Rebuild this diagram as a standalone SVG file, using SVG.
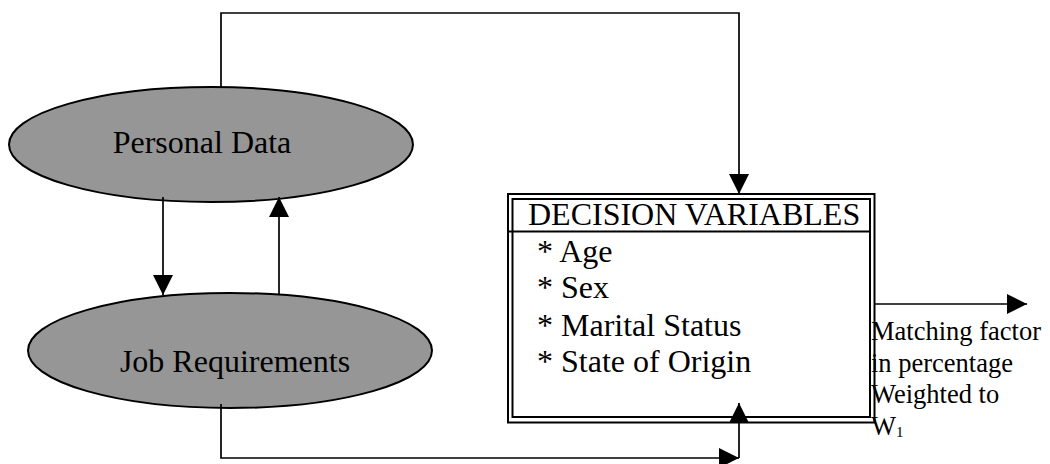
<svg xmlns="http://www.w3.org/2000/svg" width="1050" height="464" viewBox="0 0 1050 464">
<defs>
<marker id="ah" markerUnits="userSpaceOnUse" markerWidth="20" markerHeight="20" viewBox="0 0 20 20" refX="20" refY="10" orient="auto">
<path d="M0,0 L20,10 L0,20 Z" fill="#000"/>
</marker>
</defs>
<style>
text{font-family:'Liberation Serif','Times New Roman','DejaVu Serif',serif;fill:#000}
.big{font-size:32px}
.sm{font-size:26.5px}
.ell{fill:#969696;stroke:#000;stroke-width:2}
.con{fill:none;stroke:#000;stroke-width:1.7}
.arr{marker-end:url(#ah)}
.box{fill:#fff;stroke:#000;stroke-width:2}
</style>
<rect width="1050" height="464" fill="#fff"/>
<g id="personal-data">
<ellipse class="ell" cx="211" cy="144.5" rx="202" ry="57.5"/>
<text class="big" x="202" y="153" text-anchor="middle">Personal Data</text>
</g>
<g id="job-requirements">
<ellipse class="ell" cx="230" cy="350.5" rx="202" ry="57.5"/>
<text class="big" x="235" y="372" text-anchor="middle">Job Requirements</text>
</g>
<g id="decision-variables">
<rect class="box" x="508" y="194" width="366.5" height="228.5"/>
<rect class="box" x="512.5" y="199" width="357.5" height="218"/>
<line x1="508" y1="231.5" x2="870" y2="231.5" stroke="#000" stroke-width="2"/>
<text class="big" x="528" y="225">DECISION VARIABLES</text>
<text class="big" x="537" y="261.5">* Age</text>
<text class="big" x="537" y="298">* Sex</text>
<text class="big" x="537" y="336">* Marital Status</text>
<text class="big" x="537" y="371.5">* State of Origin</text>
</g>
<g id="output-label">
<text class="sm" x="871" y="340">Matching factor</text>
<text class="sm" x="871" y="372">in percentage</text>
<text class="sm" x="871" y="403">Weighted to</text>
<text class="sm" x="871" y="435">W<tspan font-size="15" dy="2">1</tspan></text>
</g>
<g id="connectors">
<polyline class="con arr" points="221,88 221,13 739,13 739,194"/>
<line class="con arr" x1="163" y1="197" x2="163" y2="295"/>
<line class="con arr" x1="279" y1="294" x2="279" y2="197"/>
<polyline class="con arr" points="221,404 221,458 739,458"/>
<line class="con arr" x1="739" y1="458" x2="739" y2="403"/>
<line class="con arr" x1="875" y1="304" x2="1027" y2="304"/>
</g>
</svg>
